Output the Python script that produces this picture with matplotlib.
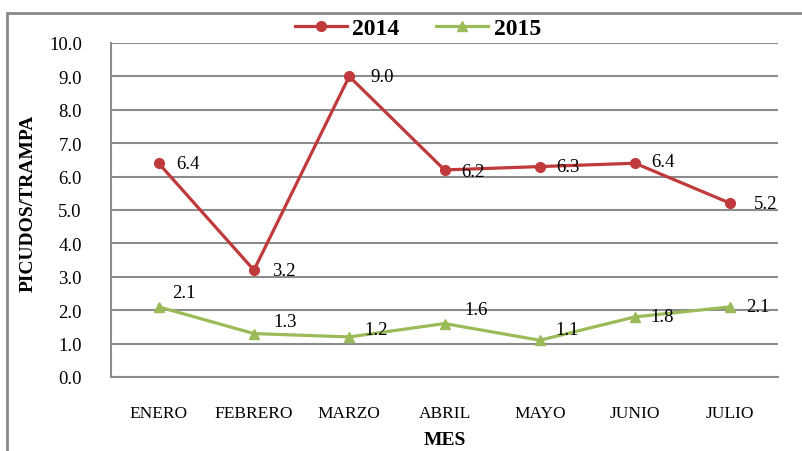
import matplotlib
matplotlib.use("Agg")
import matplotlib.pyplot as plt
from matplotlib.patches import Rectangle

months = ["ENERO", "FEBRERO", "MARZO", "ABRIL", "MAYO", "JUNIO", "JULIO"]
v2014 = [6.4, 3.2, 9.0, 6.2, 6.3, 6.4, 5.2]
v2015 = [2.1, 1.3, 1.2, 1.6, 1.1, 1.8, 2.1]
yticks = [0, 1, 2, 3, 4, 5, 6, 7, 8, 9, 10]

# label offsets (points) for data labels
off2014 = [(13, 0), (13, 0), (15, 0), (12, -1), (12, 0), (12, 1), (17, 0)]
off2015 = [(10, 10), (14, 9), (11, 5), (14, 10), (11, 8), (11, 0), (11, 0)]

plt.rcParams['font.family'] = ['Liberation Serif', 'DejaVu Serif']

fig = plt.figure(figsize=(8.02, 4.52), dpi=100)
ax = fig.add_axes([111/802, 1-378/452, (778-111)/802, (378-44)/452])

red = '#C0393B'
green = '#9BBB59'
grid = '#8C8C8C'

x = list(range(len(months)))
ax.plot(x, v2014, color=red, lw=2.3, marker='o', ms=7, label='2014', zorder=3)
ax.plot(x, v2015, color=green, lw=2.3, marker='^', ms=7.5, label='2015', zorder=3)

for i, v in enumerate(v2014):
    ax.annotate(f"{v:.1f}", (i, v), xytext=off2014[i], textcoords='offset points',
                ha='left', va='center', fontsize=13.5, color='black', zorder=4)
for i, v in enumerate(v2015):
    ax.annotate(f"{v:.1f}", (i, v), xytext=off2015[i], textcoords='offset points',
                ha='left', va='center', fontsize=13.5, color='black', zorder=4)

ax.set_xlim(-0.5, len(months) - 0.5)
ax.set_ylim(0, 10)
ax.set_yticks(yticks)
ax.set_yticklabels([f"{t:.1f}" for t in yticks], fontsize=13.5)
ax.set_xticks(x)
ax.set_xticklabels(months, fontsize=12.5)
ax.tick_params(axis='y', length=0, pad=21)
ax.tick_params(axis='x', length=0, pad=20)
ax.yaxis.grid(True, color=grid, lw=1.5)
ax.set_axisbelow(True)
for s in ['top', 'right']:
    ax.spines[s].set_visible(False)
for s in ['left', 'bottom']:
    ax.spines[s].set_color(grid)
    ax.spines[s].set_linewidth(1.5)

ax.set_ylabel("PICUDOS/TRAMPA", fontsize=14, fontweight='bold')
ax.yaxis.set_label_coords(-(111 - 28) / 667, (378 - 203) / 334)
ax.yaxis.label.set_va('center')
ax.set_xlabel("MES", fontsize=14, fontweight='bold')
ax.xaxis.set_label_coords(0.5, -(441 - 378) / 334)
ax.xaxis.label.set_va('center')

leg = ax.legend(loc='center', bbox_to_anchor=(418/802, 1 - 29/452), bbox_transform=fig.transFigure,
                ncol=2, frameon=False, prop={'weight': 'bold', 'size': 17},
                handlelength=2.2, handletextpad=0.25, columnspacing=1.55,
                borderpad=0, borderaxespad=0)

fig.patches.append(Rectangle((7/802, -0.1), 1.0, 1 - 14/452 + 0.1, transform=fig.transFigure,
                             fill=False, edgecolor='#8A8A8A', lw=2, zorder=0))

fig.savefig("out.png", dpi=100)
